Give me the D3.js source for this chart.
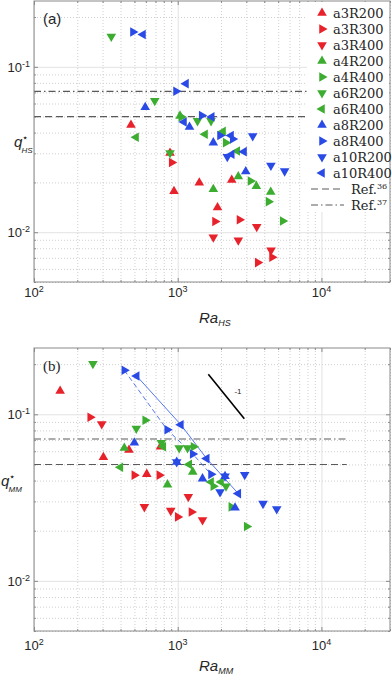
<!DOCTYPE html>
<html lang="en">
<head>
<meta charset="UTF-8">
<title>q* against Ra</title>
<script src="https://d3js.org/d3.v7.min.js"></script>
<style>
body { margin: 0; background: #fff; }
svg text { font-family: "Liberation Sans", Arial, sans-serif; fill: #262626; }
</style>
</head>
<body>
<div id="vis"></div>
<script>

var seriesNames = ["a3R200", "a3R300", "a3R400", "a4R200", "a4R400", "a6R200", "a6R400", "a8R200", "a8R400", "a10R200", "a10R400"];

// panel (a): [Ra_HS, q*_HS]
var hsA3R200 = [[473, 0.0445], [884, 0.0301], [942, 0.0177], [1413, 0.0199], [2376, 0.0207], [1892, 0.0141]];
var hsA3R300 = [[908, 0.0264], [1818, 0.0116], [2692, 0.0119], [4530, 0.00706], [3604, 0.00655]];
var hsA3R400 = [[3546, 0.0108], [1769, 0.00933], [2640, 0.00894], [4461, 0.00778]];
var hsA4R200 = [[1038, 0.0505], [2640, 0.0217], [3524, 0.0190], [1769, 0.0182], [4439, 0.0175]];
var hsA4R400 = [[1060, 0.0498], [2158, 0.0348], [3211, 0.0204], [4285, 0.0153], [5379, 0.0117]];
var hsA6R200 = [[345, 0.1526], [692, 0.0624], [1373, 0.0471], [1705, 0.0471], [884, 0.0301]];
var hsA6R400 = [[513, 0.0375], [1549, 0.0391], [2067, 0.0407], [2598, 0.0310]];
var hsA8R200 = [[594, 0.0570], [1208, 0.0433], [1769, 0.0348], [2973, 0.0233]];
var hsA8R400 = [[488, 0.1623], [973, 0.0712], [1469, 0.0508], [1970, 0.0384], [2414, 0.0366]];
var hsA10R200 = [[3326, 0.0382], [2214, 0.0286], [4450, 0.0253], [5546, 0.0234]];
var hsA10R400 = [[573, 0.1567], [1142, 0.0791], [1724, 0.0498], [2349, 0.0384], [2376, 0.0296], [2893, 0.0307], [1106, 0.0464]];

// panel (b): [Ra_MM, q*_MM]
var mmA3R200 = [[152, 0.138], [304, 0.0552], [458, 0.0611], [759, 0.0638], [609, 0.0437]];
var mmA3R300 = [[246, 0.0959], [499, 0.0431], [745, 0.0431], [1000, 0.0242], [1247, 0.0259]];
var mmA3R400 = [[296, 0.0875], [1185, 0.0320], [586, 0.0278], [894, 0.0264], [1488, 0.0232]];
var mmA4R200 = [[425, 0.0628], [849, 0.0378], [1272, 0.0451]];
var mmA4R400 = [[594, 0.0921], [1288, 0.0638], [1769, 0.0370], [2361, 0.0278], [3021, 0.0212]];
var mmA6R200 = [[257, 0.2013], [515, 0.0821], [769, 0.0674], [1024, 0.0628], [1170, 0.0628], [2168, 0.0370]];
var mmA6R400 = [[399, 0.0481], [794, 0.0638], [1202, 0.0500], [1705, 0.0392], [2002, 0.0392]];
var mmA8R200 = [[499, 0.0674], [984, 0.0517], [1488, 0.0411], [2134, 0.0425], [2505, 0.0275]];
var mmA8R400 = [[425, 0.1837], [845, 0.0807], [1272, 0.0578], [1705, 0.0436]];
var mmA10R200 = [[984, 0.0517], [2134, 0.0425], [2925, 0.0434], [3922, 0.0291], [4886, 0.0270], [1970, 0.0342]];
var mmA10R400 = [[518, 0.1698], [1051, 0.0866], [1591, 0.0542], [2640, 0.0334]];

var refValues = [0.05, 0.071];     // Ref.36 (dashed), Ref.37 (dash-dot)
var refLabels = ["36", "37"];
var refRa = [100, 15000];

var slopeRa = [1633, 2907];        // -1 slope guide in (b)
var slopeQ = [0.174, 0.094];

var xTicks = [1e2, 1e3, 1e4];
var yTicks = [1e-2, 1e-1];
var xDomain = [100, 30000];
var yDomain = [0.005, 0.25];

var hsData = [hsA3R200, hsA3R300, hsA3R400, hsA4R200, hsA4R400, hsA6R200, hsA6R400, hsA8R200, hsA8R400, hsA10R200, hsA10R400];
var mmData = [mmA3R200, mmA3R300, mmA3R400, mmA4R200, mmA4R400, mmA6R200, mmA6R400, mmA8R200, mmA8R400, mmA10R200, mmA10R400];

var red = "#e8222b", green = "#3cad31", blue = "#2a4ae6";
var markerColor = [red, red, red, green, green, green, green, blue, blue, blue, blue];
// rotation of the triangle: 0 up, 90 right, 180 down, 270 left
var markerRot = [0, 90, 180, 0, 90, 180, 270, 0, 90, 180, 270];

var width = 392, height = 675;
var left = 34, right = 390;

var svg = d3.select("#vis").append("svg")
    .attr("width", width)
    .attr("height", height);

var tri = d3.symbol().type(d3.symbolTriangle).size(40);

function minorTicks(domain) {
    var out = [];
    var lo = Math.floor(Math.log10(domain[0])), hi = Math.ceil(Math.log10(domain[1]));
    for (var e = lo; e < hi; e++) {
        for (var k = 2; k < 10; k++) {
            var v = k * Math.pow(10, e);
            if (v >= domain[0] * 0.999 && v <= domain[1] * 1.001) out.push(v);
        }
    }
    return out;
}

function drawPanel(p) {
    var x = d3.scaleLog().domain(xDomain).range([left, right]);
    var y = d3.scaleLog().domain(yDomain).range([p.bottom, p.top]);
    var h = p.bottom - p.top, w = right - left;
    var g = svg.append("g");

    // grid
    var gx = g.append("g").attr("transform", "translate(0," + p.bottom + ")")
        .call(d3.axisBottom(x).tickValues(minorTicks(xDomain)).tickSize(-h).tickFormat(""));
    var gy = g.append("g").attr("transform", "translate(" + left + ",0)")
        .call(d3.axisLeft(y).tickValues(minorTicks(yDomain)).tickSize(-w).tickFormat(""));
    [gx, gy].forEach(function(s) {
        s.select(".domain").remove();
        s.selectAll("line").attr("stroke", "#cfcfcf").attr("stroke-dasharray", "1,2");
    });
    var mx = g.append("g").attr("transform", "translate(0," + p.bottom + ")")
        .call(d3.axisBottom(x).tickValues(xTicks).tickSize(-h).tickFormat(""));
    var my = g.append("g").attr("transform", "translate(" + left + ",0)")
        .call(d3.axisLeft(y).tickValues(yTicks).tickSize(-w).tickFormat(""));
    [mx, my].forEach(function(s) {
        s.select(".domain").remove();
        s.selectAll("line").attr("stroke", "#e2e2e2");
    });

    // inward ticks on all four sides
    var tickSets = [
        [d3.axisBottom(x).tickValues(xTicks).tickSize(-4), "translate(0," + p.bottom + ")"],
        [d3.axisBottom(x).tickValues(minorTicks(xDomain)).tickSize(-2), "translate(0," + p.bottom + ")"],
        [d3.axisTop(x).tickValues(xTicks).tickSize(-4), "translate(0," + p.top + ")"],
        [d3.axisTop(x).tickValues(minorTicks(xDomain)).tickSize(-2), "translate(0," + p.top + ")"],
        [d3.axisLeft(y).tickValues(yTicks).tickSize(-4), "translate(" + left + ",0)"],
        [d3.axisLeft(y).tickValues(minorTicks(yDomain)).tickSize(-2), "translate(" + left + ",0)"],
        [d3.axisRight(y).tickValues(yTicks).tickSize(-4), "translate(" + right + ",0)"],
        [d3.axisRight(y).tickValues(minorTicks(yDomain)).tickSize(-2), "translate(" + right + ",0)"]
    ];
    tickSets.forEach(function(t) {
        var s = g.append("g").attr("transform", t[1]).call(t[0].tickFormat(""));
        s.select(".domain").remove();
        s.selectAll("line").attr("stroke", "#8a8a8a");
    });

    // reference lines
    g.selectAll(".ref").data(refValues).enter().append("line")
        .attr("x1", x(refRa[0])).attr("x2", x(refRa[1]))
        .attr("y1", function(d) { return y(d); })
        .attr("y2", function(d) { return y(d); })
        .attr("stroke", "#5a5a5a").attr("stroke-width", 1.1)
        .attr("stroke-dasharray", function(d, i) { return i == 0 ? "7,4" : "7,3,1.5,3"; });

    // box
    g.append("rect").attr("x", left).attr("y", p.top).attr("width", w).attr("height", h)
        .attr("fill", "none").attr("stroke", "#8a8a8a").attr("stroke-width", 1);

    // connecting lines (b only)
    if (p.lines) {
        var line = d3.line().x(function(d) { return x(d[0]); }).y(function(d) { return y(d[1]); });
        p.lines.forEach(function(l) {
            var pts = p.data[l.series].slice().sort(function(a, b) { return a[0] - b[0]; });
            g.append("path").attr("d", line(pts)).attr("fill", "none")
                .attr("stroke", "#5577ee").attr("stroke-width", 1)
                .attr("stroke-dasharray", l.dash);
        });
    }

    // markers
    p.data.forEach(function(series, i) {
        g.selectAll(".m" + i).data(series).enter().append("path")
            .attr("d", tri)
            .attr("transform", function(d) {
                return "translate(" + x(d[0]) + "," + y(d[1]) + ") rotate(" + markerRot[i] + ")";
            })
            .attr("fill", markerColor[i]);
    });

    // slope guide
    if (p.slope) {
        g.append("line")
            .attr("x1", x(slopeRa[0])).attr("y1", y(slopeQ[0]))
            .attr("x2", x(slopeRa[1])).attr("y2", y(slopeQ[1]))
            .attr("stroke", "#000").attr("stroke-width", 1.6);
        g.append("text").attr("x", x(2480)).attr("y", y(0.132))
            .attr("font-size", 8).text("-1");
    }

    // tick labels
    g.selectAll(".xt").data(xTicks).enter().append("text")
        .attr("x", function(d) { return x(d); })
        .attr("y", p.bottom + p.tickGap)
        .attr("text-anchor", "middle")
        .attr("font-size", 13)
        .each(function(d) {
            d3.select(this).append("tspan").text("10");
            d3.select(this).append("tspan").attr("dy", -5).attr("font-size", 9)
                .text(Math.round(Math.log10(d)));
        });
    g.selectAll(".yt").data(yTicks).enter().append("text")
        .attr("x", 30)
        .attr("y", function(d) { return y(d) + 5; })
        .attr("text-anchor", "end")
        .attr("font-size", 13)
        .each(function(d) {
            d3.select(this).append("tspan").text("10");
            d3.select(this).append("tspan").attr("dy", -5).attr("font-size", 9)
                .text(Math.round(Math.log10(d)));
        });

    // axis labels
    var xl = g.append("text").attr("x", 199).attr("y", p.bottom + p.labelGap)
        .attr("font-size", 15).attr("font-style", "italic");
    xl.append("tspan").text("Ra");
    xl.append("tspan").attr("dy", 3).attr("font-size", 9).text(p.sub);

    var ymid = p.qY;
    g.append("text").attr("x", p.qX).attr("y", ymid)
        .attr("font-size", 15).attr("font-style", "italic").text("q");
    g.append("text").attr("x", p.qX + 8).attr("y", ymid - 6)
        .attr("font-size", 10).attr("font-family", "DejaVu Sans").text("\u22c6");
    g.append("text").attr("x", p.qX + 7.5).attr("y", ymid + 6)
        .attr("font-size", 8).attr("font-style", "italic").text(p.sub);

    // panel letter
    g.append("text").attr("x", 43).attr("y", p.top + p.letterDy)
        .attr("font-size", 15)
        .style("font-family", p.letterFont)
        .text(p.letter);

    return {x: x, y: y, g: g};
}

var pa = drawPanel({top: 1, bottom: 282, data: hsData, sub: "HS", letter: "(a)",
    letterFont: "Liberation Sans", letterDy: 23, tickGap: 15, labelGap: 41, qX: 14, qY: 147});
var pb = drawPanel({top: 348, bottom: 631, data: mmData, sub: "MM", letter: "(b)",
    letterFont: "Liberation Serif", letterDy: 23, tickGap: 19, labelGap: 40, qX: 1, qY: 486,
    slope: true, lines: [{series: 10, dash: null}, {series: 8, dash: "5,3"}]});

// legend in (a)
var lg = svg.append("g");
lg.append("rect").attr("x", 307).attr("y", 2).attr("width", 82).attr("height", 210).attr("fill", "#fff");
var legY = d3.scaleLinear().domain([0, 12]).range([13, 205]);
lg.selectAll(".li").data(seriesNames).enter().append("path")
    .attr("d", tri)
    .attr("transform", function(d, i) { return "translate(322," + legY(i) + ") rotate(" + markerRot[i] + ")"; })
    .attr("fill", function(d, i) { return markerColor[i]; });
lg.selectAll(".lt").data(seriesNames).enter().append("text")
    .attr("x", 333).attr("y", function(d, i) { return legY(i) + 4.5; })
    .attr("font-size", 13).style("font-family", "DejaVu Serif")
    .text(function(d) { return d; });
refLabels.forEach(function(r, j) {
    var yy = legY(11 + j);
    lg.append("line").attr("x1", 311).attr("x2", 344).attr("y1", yy).attr("y2", yy)
        .attr("stroke", "#5a5a5a").attr("stroke-width", 1.1)
        .attr("stroke-dasharray", j == 0 ? "7,4" : "7,3,1.5,3");
    var t = lg.append("text").attr("x", 351).attr("y", yy + 4.5)
        .attr("font-size", 13).style("font-family", "DejaVu Serif");
    t.append("tspan").text("Ref.");
    t.append("tspan").attr("dy", -5).attr("font-size", 8).text(r);
});

</script>
</body>
</html>
